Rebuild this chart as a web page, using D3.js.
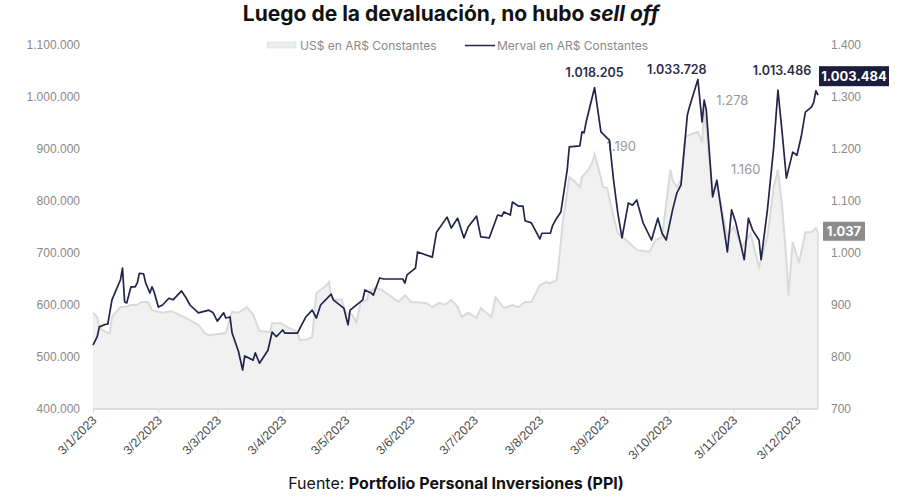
<!DOCTYPE html>
<meta charset="utf-8">
<head>
  <style>
    body { margin: 0; background: #fff; }
    svg { display: block; font-family: Inter, "Open Sans", sans-serif; }
    .axis text { fill: #8a8a8a; font-size: 12px; }
    .axis path, .axis line { stroke: #dcdcdc; }
    .xaxis text { fill: #4a4a4a; font-size: 12.5px; }
  </style>
  <script src="https://d3js.org/d3.v7.min.js"></script>
</head>
<body>
  <svg width="909" height="500"></svg>
  <script>
    // Merval en AR$ constantes (eje izquierdo)
    var mervalDates = ["2023-01-03","2023-01-05","2023-01-06","2023-01-09","2023-01-10","2023-01-12","2023-01-14","2023-01-16","2023-01-17","2023-01-18","2023-01-19","2023-01-21","2023-01-23","2023-01-24","2023-01-25","2023-01-27","2023-01-28","2023-01-30","2023-01-31","2023-02-01","2023-02-03","2023-02-05","2023-02-08","2023-02-10","2023-02-14","2023-02-16","2023-02-18","2023-02-22","2023-02-27","2023-03-01","2023-03-03","2023-03-06","2023-03-07","2023-03-09","2023-03-10","2023-03-13","2023-03-15","2023-03-16","2023-03-20","2023-03-21","2023-03-23","2023-03-27","2023-03-29","2023-03-31","2023-04-03","2023-04-04","2023-04-10","2023-04-14","2023-04-17","2023-04-19","2023-04-21","2023-04-26","2023-04-27","2023-05-02","2023-05-04","2023-05-05","2023-05-11","2023-05-12","2023-05-15","2023-05-16","2023-05-19","2023-05-21","2023-05-30","2023-05-31","2023-06-01","2023-06-05","2023-06-06","2023-06-13","2023-06-15","2023-06-20","2023-06-22","2023-06-25","2023-06-28","2023-06-30","2023-07-04","2023-07-06","2023-07-10","2023-07-14","2023-07-16","2023-07-17","2023-07-20","2023-07-21","2023-07-24","2023-07-26","2023-07-27","2023-07-30","2023-08-03","2023-08-04","2023-08-08","2023-08-09","2023-08-11","2023-08-13","2023-08-16","2023-08-17","2023-08-22","2023-08-23","2023-08-24","2023-08-25","2023-08-29","2023-09-01","2023-09-04","2023-09-05","2023-09-07","2023-09-09","2023-09-11","2023-09-14","2023-09-16","2023-09-18","2023-09-19","2023-09-21","2023-09-25","2023-09-28","2023-09-30","2023-10-02","2023-10-05","2023-10-07","2023-10-09","2023-10-12","2023-10-13","2023-10-17","2023-10-19","2023-10-20","2023-10-21","2023-10-24","2023-10-26","2023-10-31","2023-11-02","2023-11-04","2023-11-08","2023-11-10","2023-11-12","2023-11-15","2023-11-16","2023-11-19","2023-11-22","2023-11-24","2023-11-26","2023-11-28","2023-12-01","2023-12-03","2023-12-05","2023-12-07","2023-12-10","2023-12-11","2023-12-12","2023-12-13"];
    var mervalValues = [523000,539000,558000,563000,563000,610000,629000,648000,671000,606000,604000,635000,635000,642000,661000,660000,642000,623000,635000,625000,596000,600000,613000,610000,627000,615000,600000,585000,590000,585000,569000,585000,575000,577000,546000,511000,475000,502000,494000,508000,488000,513000,548000,539000,552000,546000,546000,577000,590000,575000,600000,621000,610000,594000,562000,590000,610000,629000,623000,619000,652000,650000,650000,642000,658000,671000,702000,692000,740000,769000,748000,767000,729000,750000,771000,731000,729000,773000,771000,779000,773000,798000,790000,790000,762000,758000,727000,738000,738000,752000,767000,779000,860000,904000,906000,933000,931000,952000,1018205,933000,921000,917000,840000,777000,729000,796000,792000,802000,787000,758000,725000,767000,738000,725000,783000,815000,831000,965000,981000,1033728,952000,994000,975000,808000,840000,702000,783000,758000,687000,767000,744000,725000,687000,783000,904000,1013486,931000,844000,894000,888000,923000,971000,981000,990000,1012000,1003484];

    // US$ en AR$ constantes (eje derecho)
    var usdDates = ["2023-01-03","2023-01-05","2023-01-06","2023-01-10","2023-01-11","2023-01-12","2023-01-16","2023-01-18","2023-01-21","2023-01-24","2023-01-26","2023-01-29","2023-01-31","2023-02-05","2023-02-09","2023-02-11","2023-02-16","2023-02-22","2023-02-25","2023-02-27","2023-03-07","2023-03-10","2023-03-13","2023-03-17","2023-03-20","2023-03-23","2023-03-28","2023-03-29","2023-04-02","2023-04-06","2023-04-10","2023-04-11","2023-04-14","2023-04-17","2023-04-19","2023-04-23","2023-04-25","2023-04-26","2023-04-28","2023-05-01","2023-05-03","2023-05-06","2023-05-08","2023-05-10","2023-05-13","2023-05-14","2023-05-17","2023-05-20","2023-05-28","2023-05-31","2023-06-03","2023-06-10","2023-06-13","2023-06-16","2023-06-19","2023-06-22","2023-06-25","2023-06-27","2023-06-30","2023-07-04","2023-07-06","2023-07-08","2023-07-11","2023-07-13","2023-07-17","2023-07-21","2023-07-24","2023-07-27","2023-07-30","2023-08-03","2023-08-06","2023-08-08","2023-08-11","2023-08-12","2023-08-14","2023-08-17","2023-08-19","2023-08-22","2023-08-23","2023-08-26","2023-08-28","2023-08-29","2023-08-31","2023-09-02","2023-09-04","2023-09-07","2023-09-09","2023-09-13","2023-09-18","2023-09-24","2023-09-27","2023-09-30","2023-10-04","2023-10-05","2023-10-07","2023-10-09","2023-10-11","2023-10-13","2023-10-17","2023-10-19","2023-10-20","2023-10-22","2023-10-24","2023-10-26","2023-10-31","2023-11-03","2023-11-07","2023-11-11","2023-11-15","2023-11-19","2023-11-22","2023-11-24","2023-11-26","2023-11-28","2023-11-29","2023-12-01","2023-12-04","2023-12-07","2023-12-10","2023-12-12","2023-12-13"];
    var usdValues = [885,877,856,846,846,877,896,896,900,900,906,906,890,885,888,885,875,862,846,842,846,887,885,896,881,850,848,865,865,856,848,833,833,838,923,935,944,915,910,910,885,881,867,904,910,925,933,929,906,919,906,904,896,904,900,910,896,877,885,875,894,887,877,915,894,900,896,906,906,938,944,942,948,981,1063,1146,1140,1127,1146,1160,1175,1190,1160,1127,1125,1069,1038,1025,1006,1002,1025,1031,1160,1140,1127,1140,1223,1227,1233,1213,1278,1198,1115,1135,1031,1050,1012,1038,973,1031,1127,1160,1088,987,919,1021,981,1040,1040,1048,1037];

    var leftTicks = [400000,500000,600000,700000,800000,900000,1000000,1100000];
    var rightTicks = [700,800,900,1000,1100,1200,1300,1400];
    var monthTicks = ["2023-01-03","2023-02-03","2023-03-03","2023-04-03","2023-05-03","2023-06-03","2023-07-03","2023-08-03","2023-09-03","2023-10-03","2023-11-03","2023-12-03"];

    // anotaciones: picos del Merval y del dolar
    var mervalPeakDates = ["2023-08-29", "2023-10-17", "2023-11-24"];
    var mervalPeakValues = [1018205, 1033728, 1013486];
    var usdPeakDates = ["2023-08-29", "2023-10-20", "2023-11-24"];
    var usdPeakValues = [1190, 1278, 1160];

    var parse = d3.timeParse("%Y-%m-%d");
    var es = d3.formatLocale({decimal: ",", thousands: ".", grouping: [3], currency: ["$", ""]});
    var fmt = es.format(",d");

    var merval = mervalDates.map(function(d, i) { return {date: parse(d), value: mervalValues[i]}; });
    var usd = usdDates.map(function(d, i) { return {date: parse(d), value: usdValues[i]}; });

    var svg = d3.select("svg");
    var plotL = 93, plotR = 818, plotT = 45, plotB = 409;

    var x = d3.scaleTime()
      .domain([parse("2023-01-03"), parse("2023-12-13")])
      .range([plotL, plotR]);
    var yL = d3.scaleLinear().domain([400000, 1100000]).range([plotB, plotT]);
    var yR = d3.scaleLinear().domain([700, 1400]).range([plotB, plotT]);

    // area del dolar
    svg.append("path")
      .datum(usd)
      .attr("d", d3.area().x(d => x(d.date)).y0(plotB).y1(d => yR(d.value)))
      .attr("fill", "#f1f1f1");
    svg.append("path")
      .datum(usd)
      .attr("d", d3.line().x(d => x(d.date)).y(d => yR(d.value)))
      .attr("fill", "none")
      .attr("stroke", "#dadada")
      .attr("stroke-width", 2);
    var lastU = usd[usd.length - 1];
    svg.append("line")
      .attr("x1", x(lastU.date)).attr("x2", x(lastU.date))
      .attr("y1", yR(lastU.value)).attr("y2", plotB)
      .attr("stroke", "#dadada").attr("stroke-width", 1.5);

    // ejes
    svg.append("g")
      .attr("class", "axis")
      .attr("transform", "translate(" + (plotL - 10) + ",0)")
      .call(d3.axisLeft(yL).tickValues(leftTicks).tickFormat(fmt).tickSize(0))
      .call(g => g.select(".domain").remove());

    svg.append("g")
      .attr("class", "axis")
      .attr("transform", "translate(828,0)")
      .call(d3.axisRight(yR).tickValues(rightTicks).tickFormat(fmt).tickSize(0))
      .call(g => g.select(".domain").remove());

    var xa = svg.append("g")
      .attr("class", "axis xaxis")
      .attr("transform", "translate(0," + plotB + ")")
      .call(d3.axisBottom(x).tickValues(monthTicks.map(parse)).tickFormat(d3.timeFormat("%-d/%-m/%Y")).tickSize(4));
    xa.select(".domain").attr("d", "M" + plotL + ",0H" + plotR).attr("stroke-width", 2).attr("stroke", "#e2e2e2");
    xa.selectAll("text")
      .attr("text-anchor", "end")
      .attr("y", 0)
      .attr("dy", 0)
      .attr("transform", "translate(4,12) rotate(-45)");

    // etiquetas de picos del dolar (desplazamientos a mano, como en el original)
    var usdLabelDx = [12, 12, -47];
    var usdLabelDy = [-3, -3, 4];
    svg.selectAll(".usdlab")
      .data(usdPeakDates)
      .enter().append("text")
      .attr("x", (d, i) => x(parse(d)) + usdLabelDx[i])
      .attr("y", (d, i) => yR(usdPeakValues[i]) + usdLabelDy[i])
      .attr("fill", "#999")
      .attr("font-size", 13)
      .text((d, i) => fmt(usdPeakValues[i]));

    // linea del Merval
    svg.append("path")
      .datum(merval)
      .attr("d", d3.line().x(d => x(d.date)).y(d => yL(d.value)))
      .attr("fill", "none")
      .attr("stroke", "#23244a")
      .attr("stroke-width", 1.7)
      .attr("stroke-linejoin", "round");

    var mLabelDx = [0, -21, 4];
    var mLabelDy = [-11, -5, -15];
    svg.selectAll(".mlab")
      .data(mervalPeakDates)
      .enter().append("text")
      .attr("x", (d, i) => x(parse(d)) + mLabelDx[i])
      .attr("y", (d, i) => yL(mervalPeakValues[i]) + mLabelDy[i])
      .attr("text-anchor", "middle")
      .attr("fill", "#2b2c48")
      .attr("font-size", 12.5)
      .attr("font-weight", 600)
      .text((d, i) => fmt(mervalPeakValues[i]));

    // cajas de ultimo valor
    var lastM = merval[merval.length - 1];
    var gm = svg.append("g").attr("transform", "translate(819," + (yL(lastM.value) - 29) + ")");
    gm.append("rect").attr("width", 70).attr("height", 20).attr("fill", "#1b1d3d");
    gm.append("text").attr("x", 35).attr("y", 15).attr("text-anchor", "middle")
      .attr("fill", "#fff").attr("font-size", 13).attr("font-weight", 700).text(fmt(lastM.value));
    var gu = svg.append("g").attr("transform", "translate(823," + (yR(lastU.value) - 12) + ")");
    gu.append("rect").attr("width", 42).attr("height", 19).attr("fill", "#8c8c8c");
    gu.append("text").attr("x", 21).attr("y", 14.5).attr("text-anchor", "middle")
      .attr("fill", "#fff").attr("font-size", 13).attr("font-weight", 700).text(fmt(lastU.value));

    // leyenda
    svg.append("rect").attr("x", 267).attr("y", 42).attr("width", 29).attr("height", 6)
      .attr("fill", "#ececec").attr("stroke", "#d8d8d8").attr("stroke-width", 0.5);
    svg.append("text").attr("x", 300).attr("y", 49.5).attr("fill", "#8a8a8a").attr("font-size", 12)
      .text("US$ en AR$ Constantes");
    svg.append("line").attr("x1", 465).attr("x2", 495).attr("y1", 45.5).attr("y2", 45.5)
      .attr("stroke", "#23244a").attr("stroke-width", 1.5);
    svg.append("text").attr("x", 497).attr("y", 49.5).attr("fill", "#8a8a8a").attr("font-size", 12)
      .text("Merval en AR$ Constantes");

    // titulo
    var t = svg.append("text").attr("x", 451).attr("y", 21).attr("text-anchor", "middle")
      .attr("font-size", 21).attr("font-weight", 700).attr("fill", "#111");
    t.append("tspan").text("Luego de la devaluación, no hubo ");
    t.append("tspan").attr("font-style", "italic").text("sell off");

    // fuente
    var f = svg.append("text").attr("x", 456).attr("y", 489).attr("text-anchor", "middle")
      .attr("font-size", 16).attr("fill", "#111");
    f.append("tspan").text("Fuente: ");
    f.append("tspan").attr("font-weight", 700).text("Portfolio Personal Inversiones (PPI)");
  </script>
</body>
